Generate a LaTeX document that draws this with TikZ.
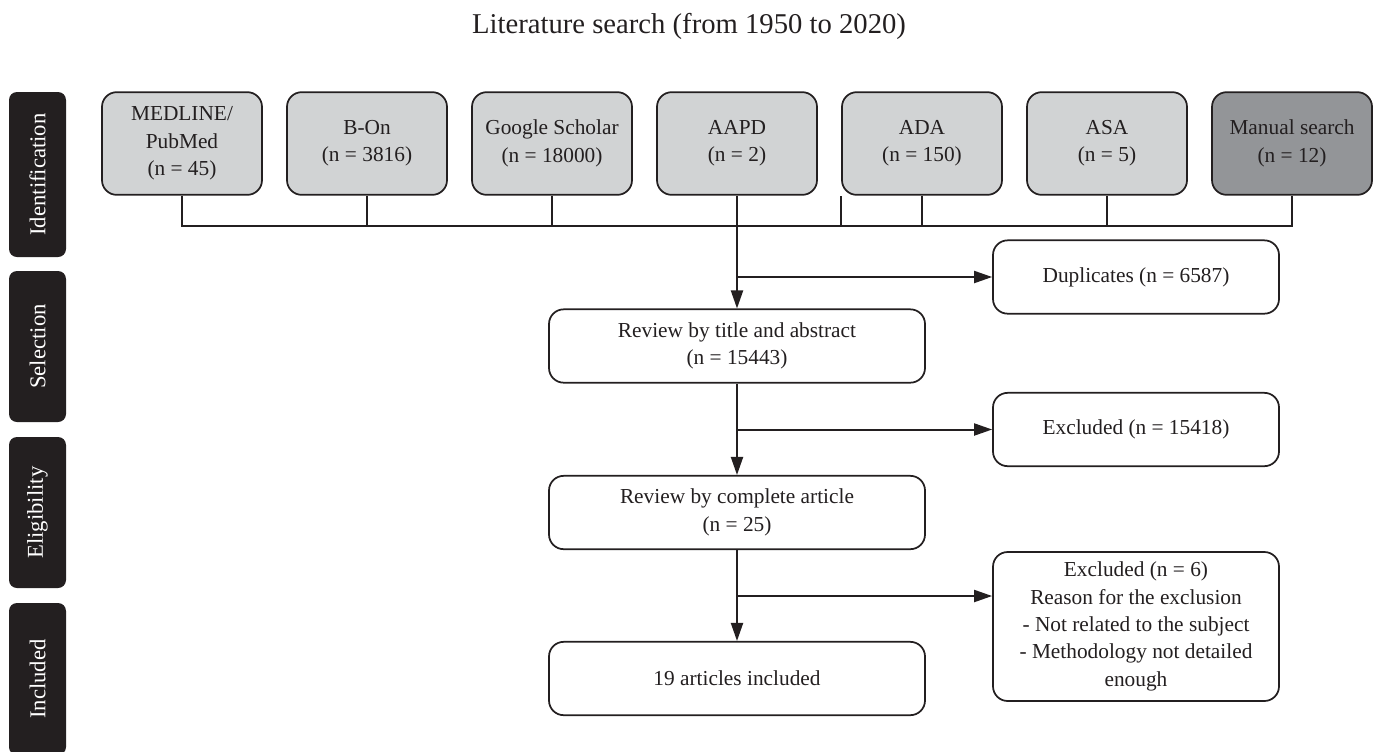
\documentclass[tikz,border=0pt]{standalone}
\usepackage{fontspec}
\setmainfont{Liberation Serif}
\usetikzlibrary{arrows.meta}

\definecolor{ink}{HTML}{231F20}
\definecolor{boxgray}{HTML}{D1D3D4}
\definecolor{mangray}{HTML}{939598}

\begin{document}
\begin{tikzpicture}[x=0.75pt, y=-0.75pt]
    \tikzset{source/.style = {shape=rectangle, rounded corners=11pt, draw=ink, line width=1.3pt, fill=boxgray, text=ink, align=center, minimum width=120pt, minimum height=77pt, font=\fontsize{16}{20.5}\selectfont}}
    \tikzset{stage/.style = {shape=rectangle, rounded corners=11pt, draw=ink, line width=1.3pt, fill=white, text=ink, align=center, minimum height=55pt, font=\fontsize{16}{20.5}\selectfont}}
    \tikzset{phase/.style = {shape=rectangle, rounded corners=6pt, fill=ink, text=white, rotate=90, minimum height=42.75pt, font=\fontsize{17}{20}\selectfont}}
    \tikzset{link/.style = {draw=ink, line width=1.5pt}}
    \tikzset{flow/.style = {draw=ink, line width=1.5pt, -{Triangle[length=13.5pt, width=9pt]}}}

    \useasboundingbox (0,0) rectangle (1378,751);

    % title
    \node[text=ink, font=\fontsize{21.5}{25}\selectfont] (head) at (689,26) {Literature search (from 1950 to 2020)};

    % phases
    \node[phase, minimum width=123.75pt] (ident) at (37.5,174.5) {Identification};
    \node[phase, minimum width=113.25pt] (sel) at (37.5,346.5) {Selection};
    \node[phase, minimum width=113.25pt] (elig) at (37.5,512.5) {Eligibility};
    \node[phase, minimum width=114pt] (incl) at (37.5,679) {Included};

    % sources
    \node[source] (medline) at (182,143.5) {MEDLINE/\\PubMed\\(n = 45)};
    \node[source] (bon) at (367,143.5) {B-On\\(n = 3816)};
    \node[source] (google) at (552,143.5) {Google Scholar\\(n = 18000)};
    \node[source] (aapd) at (737,143.5) {AAPD\\(n = 2)};
    \node[source] (ada) at (922,143.5) {ADA\\(n = 150)};
    \node[source] (asa) at (1107,143.5) {ASA\\(n = 5)};
    \node[source, fill=mangray] (manual) at (1292,143.5) {Manual search\\(n = 12)};

    % stages
    \node[stage, minimum width=282pt] (title) at (737,346) {Review by title and abstract\\(n = 15443)};
    \node[stage, minimum width=282pt] (full) at (737,512.5) {Review by complete article\\(n = 25)};
    \node[stage, minimum width=282pt] (final) at (737,678.5) {19 articles included};
    \node[stage, minimum width=214.5pt] (dup) at (1136,277) {Duplicates (n = 6587)};
    \node[stage, minimum width=214.5pt] (excl) at (1136,429.5) {Excluded (n = 15418)};
    \node[stage, minimum width=214.5pt, minimum height=111.75pt] (reason) at (1136,626.5) {Excluded (n = 6)\\Reason for the exclusion\\- Not related to the subject\\- Methodology not detailed\\enough};

    % joints
    \coordinate (bus) at (1292,226);
    \coordinate (spare) at (841,196);
    \coordinate (j1) at (737,277);
    \coordinate (j2) at (737,429.5);
    \coordinate (j3) at (737,596);

    % edges
    \draw[link] (medline) |- (bus) -- (manual);
    \draw[link] (bon) -- (bon |- bus);
    \draw[link] (google) -- (google |- bus);
    \draw[link] (spare) -- (spare |- bus);
    \draw[link] (ada) -- (ada |- bus);
    \draw[link] (asa) -- (asa |- bus);
    \draw[flow] (aapd) -- (title);
    \draw[flow] (j1) -- (dup);
    \draw[flow] (title) -- (full);
    \draw[flow] (j2) -- (excl);
    \draw[flow] (full) -- (final);
    \draw[flow] (j3) -- (j3 -| reason.west);
\end{tikzpicture}
\end{document}
